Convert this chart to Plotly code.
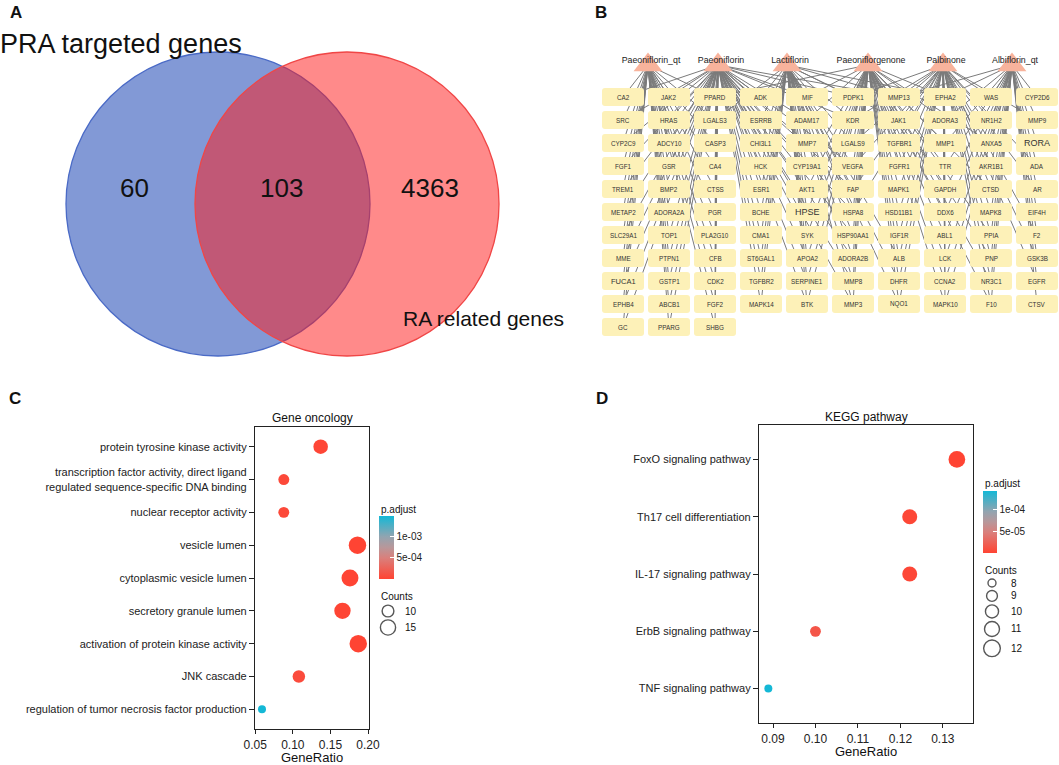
import math
import plotly.graph_objects as go

W, H = 1059, 765
FONT = "Liberation Sans, Arial, Helvetica, sans-serif"

# ---------------- data ----------------
# Panel A - Venn diagram
venn_labels = ["PRA targeted genes", "RA related genes"]
venn_counts = [60, 103, 4363]  # PRA only, shared, RA only

# Panel B - compound / target network
compounds = ["Paeoniflorin_qt", "Paeoniflorin", "Lactiflorin",
             "Paeoniflorgenone", "Palbinone", "Albiflorin_qt"]
gene_rows = [
    ["CA2", "JAK2", "PPARD", "ADK", "MIF", "PDPK1", "MMP13", "EPHA2", "WAS", "CYP2D6"],
    ["SRC", "HRAS", "LGALS3", "ESRRB", "ADAM17", "KDR", "JAK1", "ADORA3", "NR1H2", "MMP9"],
    ["CYP2C9", "ADCY10", "CASP3", "CHI3L1", "MMP7", "LGALS9", "TGFBR1", "MMP1", "ANXA5", "RORA"],
    ["FGF1", "GSR", "CA4", "HCK", "CYP19A1", "VEGFA", "FGFR1", "TTR", "AKR1B1", "ADA"],
    ["TREM1", "BMP2", "CTSS", "ESR1", "AKT1", "FAP", "MAPK1", "GAPDH", "CTSD", "AR"],
    ["METAP2", "ADORA2A", "PGR", "BCHE", "HPSE", "HSPA8", "HSD11B1", "DDX6", "MAPK8", "EIF4H"],
    ["SLC29A1", "TOP1", "PLA2G10", "CMA1", "SYK", "HSP90AA1", "IGF1R", "ABL1", "PPIA", "F2"],
    ["MME", "PTPN1", "CFB", "ST6GAL1", "APOA2", "ADORA2B", "ALB", "LCK", "PNP", "GSK3B"],
    ["FUCA1", "GSTP1", "CDK2", "TGFBR2", "SERPINE1", "MMP8", "DHFR", "CCNA2", "NR3C1", "EGFR"],
    ["EPHB4", "ABCB1", "FGF2", "MAPK14", "BTK", "MMP3", "NQO1", "MAPK10", "F10", "CTSV"],
    ["GC", "PPARG", "SHBG"],
]
links_paeoniflorin_qt = ["CA2", "JAK2", "SRC", "HRAS", "CYP2C9", "ADCY10", "FGF1", "GSR", "TREM1",
                         "BMP2", "METAP2", "ADORA2A", "SLC29A1", "TOP1", "MME", "PTPN1", "FUCA1",
                         "GSTP1", "EPHB4", "ABCB1", "GC", "PPARG", "PPARD", "CASP3", "CA4", "CTSS",
                         "PGR", "PLA2G10", "CFB", "CDK2", "FGF2", "SHBG", "LGALS3"]
links_paeoniflorin = ["JAK2", "PPARD", "ADK", "MIF", "LGALS3", "ESRRB", "ADAM17", "CASP3", "CHI3L1",
                      "MMP7", "CA4", "HCK", "CYP19A1", "CTSS", "ESR1", "AKT1", "PGR", "BCHE", "HPSE",
                      "PLA2G10", "CMA1", "SYK", "CFB", "ST6GAL1", "APOA2", "CDK2", "TGFBR2",
                      "SERPINE1", "FGF2", "MAPK14", "BTK", "SHBG", "SRC", "HRAS", "KDR", "VEGFA",
                      "PDPK1", "MMP13", "GSR", "ADCY10", "CA2", "CYP2C9", "FGF1", "TREM1", "METAP2",
                      "SLC29A1", "MME", "FUCA1", "EPHB4", "GC", "PPARG", "TOP1", "PTPN1", "GSTP1",
                      "ABCB1", "HSPA8", "HSP90AA1", "MMP8", "FAP", "ADORA2B", "MMP3"]
links_lactiflorin = ["ADK", "MIF", "PDPK1", "MMP13", "ESRRB", "ADAM17", "KDR", "JAK1", "MMP7",
                     "LGALS9", "CYP19A1", "VEGFA", "AKT1", "FAP", "HSPA8", "HSP90AA1", "ADORA2B",
                     "MMP8", "MMP3", "EPHA2", "LGALS3", "CHI3L1", "HCK", "ESR1", "BCHE", "CMA1",
                     "ST6GAL1", "TGFBR2", "MAPK14", "SYK", "APOA2", "SERPINE1", "BTK", "HPSE",
                     "NQO1", "DHFR", "ALB"]
links_paeoniflorgenone = ["PPARD", "PDPK1", "MMP13", "EPHA2", "KDR", "JAK1", "ADORA3", "LGALS9",
                          "TGFBR1", "MMP1", "VEGFA", "FGFR1", "TTR", "FAP", "MAPK1", "GAPDH", "HSPA8",
                          "HSD11B1", "DDX6", "IGF1R", "ABL1", "ALB", "LCK", "DHFR", "CCNA2", "NQO1",
                          "MAPK10", "ADAM17", "MIF", "CYP19A1", "AKT1", "HPSE", "SYK", "APOA2",
                          "SERPINE1", "BTK", "MMP8", "MMP3", "ADORA2B", "HSP90AA1", "ANXA5", "CTSD",
                          "PPIA", "PNP", "NR3C1", "F10"]
links_palbinone = ["MMP13", "EPHA2", "WAS", "ADORA3", "NR1H2", "JAK1", "TGFBR1", "MMP1", "ANXA5",
                   "FGFR1", "TTR", "AKR1B1", "MAPK1", "GAPDH", "CTSD", "DDX6", "MAPK8", "ABL1", "PPIA",
                   "LCK", "PNP", "CCNA2", "NR3C1", "F10", "MMP9", "KDR", "PDPK1", "LGALS9", "VEGFA",
                   "FAP", "HSPA8", "HSD11B1", "IGF1R", "ALB", "DHFR", "NQO1", "MAPK10", "EGFR",
                   "GSK3B", "F2", "AR", "ADA"]
links_albiflorin_qt = ["WAS", "CYP2D6", "NR1H2", "MMP9", "ANXA5", "RORA", "AKR1B1", "ADA", "CTSD",
                       "AR", "MAPK8", "EIF4H", "PPIA", "F2", "PNP", "GSK3B", "NR3C1", "EGFR", "F10",
                       "CTSV", "EPHA2", "TTR", "GAPDH", "DDX6", "ABL1", "LCK", "CCNA2", "MAPK10",
                       "MMP1", "ADORA3", "MMP13"]
compound_links = [links_paeoniflorin_qt, links_paeoniflorin, links_lactiflorin,
                  links_paeoniflorgenone, links_palbinone, links_albiflorin_qt]

# Panel C - GO enrichment
go_terms = ["protein tyrosine kinase activity",
            "transcription factor activity, direct ligand<br>regulated sequence-specific DNA binding",
            "nuclear receptor activity", "vesicle lumen", "cytoplasmic vesicle lumen",
            "secretory granule lumen", "activation of protein kinase activity", "JNK cascade",
            "regulation of tumor necrosis factor production"]
go_ratio = [0.137, 0.088, 0.088, 0.186, 0.176, 0.166, 0.187, 0.108, 0.059]
go_count = [14, 9, 9, 19, 18, 17, 19, 11, 6]
go_padj = [2.0e-5, 4.0e-5, 4.0e-5, 3.0e-6, 5.0e-6, 8.0e-6, 1.0e-6, 6.0e-5, 1.48e-3]
go_xticks = [0.05, 0.10, 0.15, 0.20]
go_cb_ticks = [5e-4, 1e-3]
go_cb_text = ["5e-04", "1e-03"]
go_legend_counts = [10, 15]

# Panel D - KEGG enrichment
kegg_terms = ["FoxO signaling pathway", "Th17 cell differentiation", "IL-17 signaling pathway",
              "ErbB signaling pathway", "TNF signaling pathway"]
kegg_ratio = [0.1333, 0.1222, 0.1222, 0.1000, 0.0889]
kegg_count = [12, 11, 11, 9, 8]
kegg_padj = [2.3e-6, 4.5e-6, 5.0e-6, 1.6e-5, 1.43e-4]
kegg_xticks = [0.09, 0.10, 0.11, 0.12, 0.13]
kegg_cb_ticks = [5e-5, 1e-4]
kegg_cb_text = ["5e-05", "1e-04"]
kegg_legend_counts = [8, 9, 10, 11, 12]

# ---------------- styles ----------------
COLORSCALE = [[0.0, "#FF4433"], [0.33, "#DA7F7B"], [0.5, "#B8979A"],
              [0.67, "#92A4B0"], [1.0, "#14B8D6"]]


def size_c(c):
    return math.sqrt(64 + 18.6 * (c - 6))


def size_d(c):
    return math.sqrt(64 + 53.7 * (c - 8))


def xp(px):
    return px / W


def yp(py):
    return 1 - py / H


fig = go.Figure()
shapes = []
annotations = []


def ann(x, y, text, size, color="#111", xanchor="center", bold=False, family=FONT):
    annotations.append(dict(x=x, y=y, xref="x", yref="y", text=("<b>%s</b>" % text) if bold else text,
                            showarrow=False, xanchor=xanchor, yanchor="middle",
                            font=dict(size=size, color=color, family=family)))


# ---------------- Panel A ----------------
VENN_CY, VENN_R = 204, 152
venn_cx = [218, 347]
shapes.append(dict(type="circle", xref="x", yref="y", layer="below",
                   x0=venn_cx[0] - VENN_R, x1=venn_cx[0] + VENN_R,
                   y0=VENN_CY - VENN_R, y1=VENN_CY + VENN_R,
                   fillcolor="#8299D6", line=dict(color="#4A6AC6", width=1.3)))
shapes.append(dict(type="circle", xref="x", yref="y", layer="below",
                   x0=venn_cx[1] - VENN_R, x1=venn_cx[1] + VENN_R,
                   y0=VENN_CY - VENN_R, y1=VENN_CY + VENN_R,
                   fillcolor="rgba(255,25,26,0.51)", line=dict(color="#F04646", width=1.3)))
ann(16, 12, "A", 17, bold=True)
annotations.append(dict(x=-0.002, y=yp(44), xref="paper", yref="paper", text=venn_labels[0],
                        showarrow=False, xanchor="left", yanchor="middle",
                        font=dict(size=27, color="#111", family=FONT)))
ann(483, 318, venn_labels[1], 21)
for xx, v in zip([134, 281, 430], venn_counts):
    ann(xx, 188, str(v), 26)

# ---------------- Panel B ----------------
ann(601, 12, "B", 17, bold=True)
COL0, COLSTEP, ROW0, ROWSTEP = 623, 46, 97, 23
BOX_W, BOX_H = 42, 18
gene_pos = {}
for ri, row in enumerate(gene_rows):
    for ci, g in enumerate(row):
        gene_pos[g] = (COL0 + ci * COLSTEP, ROW0 + ri * ROWSTEP)

tri_x = [648, 718, 787, 868, 943, 1012]
TRI_Y = 65
ex, ey = [], []
for cx, glist in zip(tri_x, compound_links):
    for g in glist:
        gx, gy = gene_pos[g]
        ex += [cx, gx, None]
        ey += [TRI_Y, gy, None]
fig.add_trace(go.Scatter(x=ex, y=ey, mode="lines", xaxis="x", yaxis="y",
                         line=dict(color="#7b7b7b", width=1.0), hoverinfo="skip", showlegend=False))
fig.add_trace(go.Scatter(x=tri_x, y=[TRI_Y] * len(tri_x), mode="markers", xaxis="x", yaxis="y",
                         marker=dict(symbol="triangle-up", size=25, color="#F8B39C", line=dict(width=0)),
                         hoverinfo="skip", showlegend=False))
fig.add_trace(go.Scatter(x=[t + 3 for t in tri_x], y=[61] * len(tri_x), mode="text", xaxis="x", yaxis="y",
                         text=compounds, textfont=dict(size=8.8, color="#222", family=FONT),
                         hoverinfo="skip", showlegend=False))


def rrect(x0, y0, x1, y1, r):
    return ("M %g,%g L %g,%g Q %g,%g %g,%g L %g,%g Q %g,%g %g,%g L %g,%g Q %g,%g %g,%g "
            "L %g,%g Q %g,%g %g,%g Z") % (
        x0 + r, y0, x1 - r, y0, x1, y0, x1, y0 + r, x1, y1 - r, x1, y1, x1 - r, y1,
        x0 + r, y1, x0, y1, x0, y1 - r, x0, y0 + r, x0, y0, x0 + r, y0)


big_labels = {"RORA": 9, "HPSE": 9, "FUCA1": 7.5}
for g, (gx, gy) in gene_pos.items():
    shapes.append(dict(type="path", xref="x", yref="y", layer="above",
                       path=rrect(gx - BOX_W / 2, gy - BOX_H / 2, gx + BOX_W / 2, gy + BOX_H / 2, 3),
                       fillcolor="#FDF1B8", line=dict(width=0)))
    ann(gx, gy, g, big_labels.get(g, 6.3), color="#333")

# ---------------- Panel C ----------------
ann(15, 398, "C", 17, bold=True)
fig.add_trace(go.Scatter(
    x=go_ratio, y=go_terms, mode="markers", xaxis="x2", yaxis="y2", showlegend=False,
    marker=dict(size=[size_c(c) for c in go_count], color=go_padj, colorscale=COLORSCALE,
                line=dict(width=0), opacity=1, showscale=True,
                colorbar=dict(x=xp(379), xanchor="left", y=yp(516), yanchor="top",
                              len=63, lenmode="pixels", thickness=15, thicknessmode="pixels",
                              xpad=0, ypad=0, outlinewidth=0, tickvals=go_cb_ticks,
                              ticktext=go_cb_text, ticks="inside", ticklen=4, tickcolor="white",
                              tickfont=dict(size=10, color="#222", family=FONT)))))
ann(312, 418, "Gene oncology", 12)
ann(312, 757, "GeneRatio", 13)
ann(379, 509, "p.adjust", 10, xanchor="left")
ann(379, 596, "Counts", 10, xanchor="left")
ly = 611
lsz = [size_c(c) for c in go_legend_counts]
leg_y = []
for i, s in enumerate(lsz):
    if i > 0:
        ly += (lsz[i - 1] + s) / 2 + 3
    leg_y.append(ly)
fig.add_trace(go.Scatter(x=[388] * len(lsz), y=leg_y, mode="markers", xaxis="x", yaxis="y",
                         marker=dict(size=lsz, color="white", line=dict(color="#111", width=1.4)),
                         hoverinfo="skip", showlegend=False))
for yy, c in zip(leg_y, go_legend_counts):
    ann(403, yy, str(c), 10, xanchor="left")

# ---------------- Panel D ----------------
ann(602, 398, "D", 17, bold=True)
fig.add_trace(go.Scatter(
    x=kegg_ratio, y=kegg_terms, mode="markers", xaxis="x3", yaxis="y3", showlegend=False,
    marker=dict(size=[size_d(c) for c in kegg_count], color=kegg_padj, colorscale=COLORSCALE,
                line=dict(width=0), opacity=1, showscale=True,
                colorbar=dict(x=xp(983), xanchor="left", y=yp(491), yanchor="top",
                              len=62, lenmode="pixels", thickness=14, thicknessmode="pixels",
                              xpad=0, ypad=0, outlinewidth=0, tickvals=kegg_cb_ticks,
                              ticktext=kegg_cb_text, ticks="inside", ticklen=4, tickcolor="white",
                              tickfont=dict(size=10, color="#222", family=FONT)))))
ann(866, 417, "KEGG pathway", 12)
ann(866, 751, "GeneRatio", 13)
ann(983, 483, "p.adjust", 10, xanchor="left")
ann(983, 570, "Counts", 10, xanchor="left")
ly = 583
lsz = [size_d(c) for c in kegg_legend_counts]
leg_y = []
for i, s in enumerate(lsz):
    if i > 0:
        ly += (lsz[i - 1] + s) / 2 + 3.5
    leg_y.append(ly)
fig.add_trace(go.Scatter(x=[992] * len(lsz), y=leg_y, mode="markers", xaxis="x", yaxis="y",
                         marker=dict(size=lsz, color="white", line=dict(color="#111", width=1.4)),
                         hoverinfo="skip", showlegend=False))
for yy, c in zip(leg_y, kegg_legend_counts):
    ann(1009, yy, str(c), 10, xanchor="left")

# ---------------- axes ----------------
box_axis = dict(showline=True, mirror=True, linecolor="#222", linewidth=1.3, ticks="outside",
                tickcolor="#222", tickwidth=1.1, showgrid=False, zeroline=False)

fig.update_layout(
    width=W, height=H, margin=dict(l=0, r=0, t=0, b=0, autoexpand=False),
    paper_bgcolor="white", plot_bgcolor="rgba(0,0,0,0)",
    font=dict(family=FONT, color="#111"),
    showlegend=False,
    xaxis=dict(domain=[0, 1], range=[0, W], visible=False, fixedrange=True),
    yaxis=dict(domain=[0, 1], range=[H, 0], visible=False, fixedrange=True),
    xaxis2=dict(domain=[xp(255), xp(369)], anchor="y2", range=[0.0497, 0.2013],
                tickvals=go_xticks, ticktext=["%.2f" % v for v in go_xticks], ticklen=4,
                tickfont=dict(size=12, color="#222"), **box_axis),
    yaxis2=dict(domain=[yp(729), yp(427)], anchor="x2", type="category",
                categoryorder="array", categoryarray=go_terms,
                range=[len(go_terms) - 0.4, -0.6], ticklen=5,
                tickfont=dict(size=11, color="#222"), **box_axis),
    xaxis3=dict(domain=[xp(759), xp(973)], anchor="y3", range=[0.0867, 0.1371],
                tickvals=kegg_xticks, ticktext=["%.2f" % v for v in kegg_xticks], ticklen=4,
                tickfont=dict(size=12, color="#222"), **box_axis),
    yaxis3=dict(domain=[yp(723), yp(425)], anchor="x3", type="category",
                categoryorder="array", categoryarray=kegg_terms,
                range=[len(kegg_terms) - 0.4, -0.6], ticklen=5,
                tickfont=dict(size=11, color="#222"), **box_axis),
    shapes=shapes,
    annotations=annotations,
)

fig.write_html("out.html", config={"displayModeBar": False},
               post_script="document.body.style.margin='0px';document.body.style.overflow='hidden';")
